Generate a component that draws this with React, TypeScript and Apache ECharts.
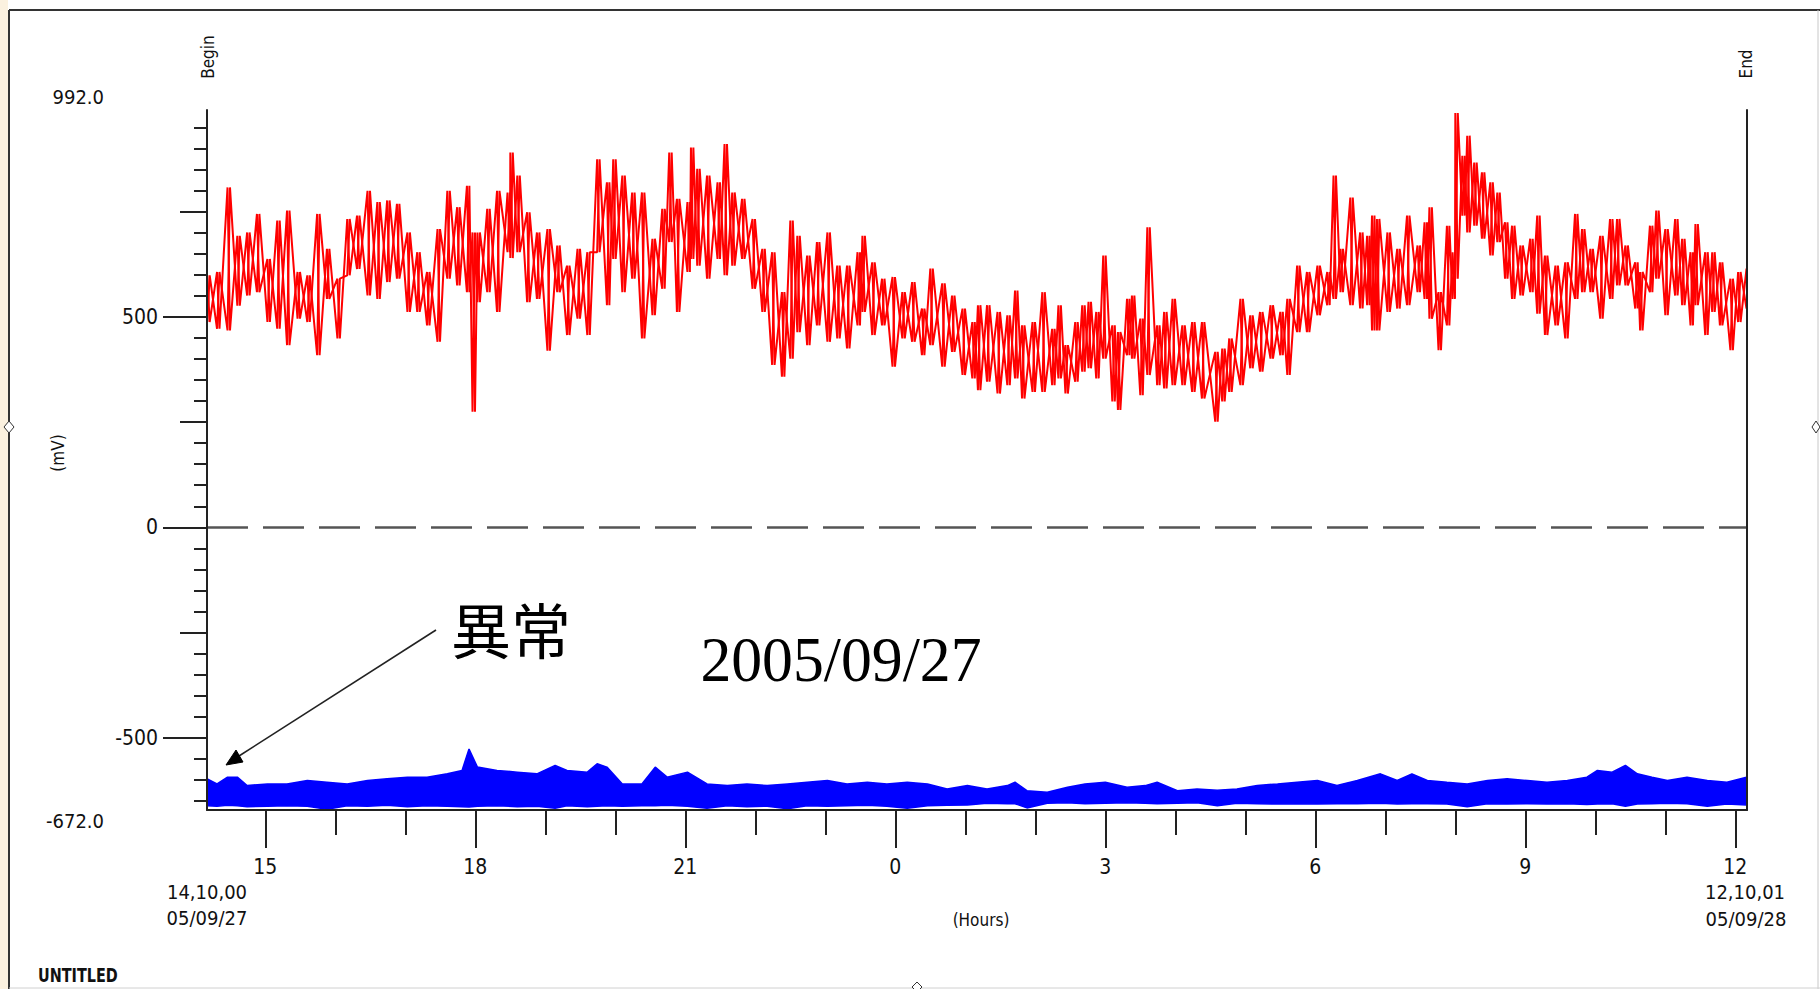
import React, { useEffect, useRef } from "react";
import * as echarts from "echarts";

// ---- axis ranges / ticks ----
const START_HOUR = 14 + 10 / 60; // 14:10:00 05/09/27
const END_HOUR = 36 + 10 / 60 + 1 / 3600; // 12:10:01 05/09/28
const Y_MIN = -672;
const Y_MAX = 992;

const hourTicks = [15, 16, 17, 18, 19, 20, 21, 22, 23, 24, 25, 26, 27, 28, 29, 30, 31, 32, 33, 34, 35, 36];
const hourLabelTicks = [15, 18, 21, 24, 27, 30, 33, 36];
const yMinorTicks = [-650, -600, -550, -500, -450, -400, -350, -300, -250, -200, -150, -100, -50, 0, 50, 100, 150, 200, 250, 300, 350, 400, 450, 500, 550, 600, 650, 700, 750, 800, 850, 900, 950];
const yMidTicks = [-250, 250, 750];
const yMajorTicks = [-500, 0, 500];

// ---- red channel (mV): per time column, upper and lower excursion ----
const redTimes = [
  14.17, 14.31, 14.46, 14.60, 14.74, 14.88, 15.03, 15.17, 15.31, 15.46, 15.60, 15.74, 15.88, 16.03, 16.17, 16.31, 16.46, 16.60, 16.74, 16.88,
  17.03, 17.17, 17.31, 17.46, 17.60, 17.74, 17.88, 17.96, 18.03, 18.17, 18.31, 18.46, 18.50, 18.60, 18.74, 18.88, 19.03, 19.17, 19.31, 19.46,
  19.60, 19.74,
  19.88, 19.97, 20.10, 20.24, 20.38, 20.53, 20.67, 20.77, 20.88, 21.03, 21.08, 21.17, 21.31, 21.46, 21.56, 21.67, 21.81, 21.96, 22.10, 22.24,
  22.38, 22.50, 22.60, 22.74, 22.88, 23.03, 23.17, 23.31, 23.46, 23.53, 23.67, 23.81, 23.96, 24.10, 24.24, 24.38, 24.50, 24.67, 24.81, 24.96,
  25.10, 25.18, 25.31,
  25.46, 25.60, 25.71, 25.81, 25.96, 26.10, 26.24, 26.33, 26.43, 26.57, 26.67, 26.76, 26.87, 26.97, 27.10, 27.18, 27.31, 27.38, 27.50, 27.60,
  27.74, 27.84, 27.96, 28.10, 28.24, 28.38, 28.57, 28.67, 28.77, 28.93, 29.07, 29.21, 29.36, 29.50, 29.60, 29.74, 29.88, 30.03, 30.17, 30.26,
  30.36, 30.50, 30.64, 30.74, 30.81,
  30.88, 31.03, 31.17, 31.31, 31.46, 31.56, 31.63, 31.76, 31.88, 31.96, 32.00, 32.10, 32.17, 32.27, 32.38, 32.50, 32.60, 32.71, 32.81, 32.93,
  33.07, 33.17, 33.28, 33.43, 33.57, 33.71, 33.81, 33.93, 34.07, 34.21, 34.31, 34.43, 34.57, 34.64, 34.78, 34.87, 35.00, 35.14, 35.24, 35.36,
  35.43, 35.57, 35.67, 35.78, 35.93, 36.04, 36.16,
];
const redHigh = [
  599, 607, 808, 693, 701, 745, 638, 729, 753, 607, 599, 745, 662, 591, 733, 741, 800, 773, 777, 769,
  701, 654, 607, 709, 800, 761, 812, 701, 701, 757, 800, 796, 891, 836, 749, 701, 709, 670, 622, 662,
  654, 875,
  820, 875, 836, 796, 796, 686, 757, 891, 781, 773, 903, 852, 836, 820, 911, 796, 781, 733, 662, 654,
  559, 729, 693, 646, 678, 701, 622, 622, 654, 693, 630, 591, 595, 559, 583, 520, 615, 580, 551, 520,
  488, 528, 528,
  512, 504, 563, 480, 488, 559, 472, 528, 433, 488, 528, 536, 512, 646, 480, 464, 543, 551, 496, 713,
  480, 512, 543, 480, 488, 488, 417, 425, 449, 543, 504, 512, 528, 512, 543, 622, 607, 622, 607, 836,
  662, 784, 701, 693, 741,
  733, 701, 662, 741, 670, 725, 761, 559, 717, 654, 985, 883, 931, 867, 844, 820, 796, 725, 717, 670,
  686, 741, 646, 622, 630, 745, 709, 662, 693, 733, 733, 670, 630, 607, 717, 753, 709, 733, 686, 654,
  721, 654, 654, 630, 591, 607, 615,
];
const redLow = [
  488, 472, 468, 527, 551, 559, 488, 472, 433, 496, 488, 409, 543, 449, 599, 614, 551, 543, 583, 591,
  512, 512, 480, 441, 591, 575, 559, 275, 535, 559, 512, 654, 640, 654, 535, 543, 420, 559, 457, 496,
  457, 654,
  528, 638, 559, 591, 449, 504, 567, 678, 512, 607, 638, 622, 591, 638, 599, 622, 638, 567, 512, 386,
  358, 401, 464, 433, 480, 441, 449, 425, 480, 512, 457, 480, 382, 449, 441, 409, 433, 382, 417, 362,
  354, 326, 346,
  318, 338, 354, 306, 322, 322, 338, 354, 318, 346, 370, 378, 354, 401, 299, 279, 409, 401, 314, 362,
  338, 330, 338, 338, 322, 306, 251, 299, 322, 338, 378, 370, 401, 409, 362, 464, 464, 504, 528, 543,
  559, 528, 520, 528, 468,
  468, 512, 520, 528, 559, 543, 496, 421, 480, 543, 591, 741, 701, 717, 686, 646, 678, 591, 543, 551,
  559, 508, 457, 480, 449, 543, 559, 559, 496, 543, 575, 575, 520, 468, 559, 591, 504, 551, 528, 480,
  528, 457, 512, 480, 421, 488, 520,
];

// ---- blue channel (mV): per time column, top and bottom of the trace ----
const blueTimes = [
  14.17, 14.31, 14.46, 14.60, 14.74, 15.03, 15.31, 15.60, 15.88, 16.17, 16.46, 16.74, 17.03, 17.31, 17.60, 17.81, 17.91, 18.03, 18.31, 18.60,
  18.88, 19.14, 19.31, 19.60, 19.74, 19.88, 20.10, 20.38, 20.57, 20.74, 21.03, 21.31, 21.60, 21.88, 22.17, 22.46, 22.74, 23.03, 23.31, 23.60,
  23.88, 24.17, 24.46, 24.74, 25.03, 25.31, 25.60, 25.71, 25.88, 26.17, 26.46, 26.71, 27.00, 27.31, 27.57, 27.74, 28.03, 28.31, 28.60, 28.88,
  29.17, 29.46, 29.74, 30.03, 30.31, 30.60, 30.93, 31.17, 31.38, 31.60, 31.88, 32.17, 32.46, 32.74, 33.03, 33.31, 33.60, 33.88, 34.03, 34.24,
  34.43, 34.60, 34.81, 35.03, 35.31, 35.60, 35.88, 36.16,
];
const blueHigh = [
  -598, -610, -594, -594, -614, -610, -610, -602, -606, -610, -602, -598, -594, -594, -586, -578, -527, -570, -578, -582,
  -586, -566, -578, -582, -562, -570, -610, -610, -570, -594, -582, -610, -614, -610, -614, -610, -606, -602, -610, -606,
  -610, -606, -610, -622, -614, -622, -614, -606, -626, -630, -618, -610, -606, -618, -614, -606, -626, -622, -625, -622,
  -614, -610, -606, -602, -614, -602, -586, -602, -586, -602, -606, -610, -602, -598, -602, -606, -602, -594, -578, -582,
  -566, -586, -594, -602, -594, -602, -606, -594,
];
const blueLow = [
  -662, -663, -661, -662, -664, -663, -662, -663, -670, -662, -663, -661, -664, -662, -663, -664, -665, -663, -662, -664,
  -663, -668, -662, -664, -663, -662, -663, -662, -662, -661, -663, -668, -662, -664, -663, -669, -662, -663, -662, -661,
  -663, -668, -662, -661, -660, -656, -657, -657, -667, -656, -655, -657, -656, -655, -656, -657, -656, -655, -662, -656,
  -657, -658, -657, -658, -657, -657, -656, -658, -657, -657, -658, -664, -657, -658, -657, -658, -657, -659, -658, -657,
  -663, -658, -657, -656, -657, -663, -658, -660,
];

const FONT = '"DejaVu Sans Condensed", "Liberation Sans Narrow", "DejaVu Sans", sans-serif';
const INK = "#111";
const AXIS_LINE = { color: "#222", width: 2 };
const RED = "#ff0000";
const BLUE = "#0000ff";

function txt(text: string, x: number, y: number, o: any = {}) {
  const align = o.align || "center";
  return {
    type: "text",
    x,
    y,
    rotation: o.rotation || 0,
    scaleX: o.scaleX || 1,
    z: 20,
    style: {
      text,
      fill: o.color || INK,
      fontSize: o.size || 20,
      fontFamily: o.family || FONT,
      fontWeight: o.weight || "normal",
      align,
      verticalAlign: "middle",
      textAlign: align,
      textVerticalAlign: "middle",
    },
  };
}

export default function App() {
  const ref = useRef<HTMLDivElement>(null);

  useEffect(() => {
    if (!ref.current) return;
    const chart = echarts.init(ref.current, undefined, { renderer: "svg" });

    // two opposite-phase traces through the same high/low readings give the dense noisy look
    const redDataA: number[][] = [];
    const redDataB: number[][] = [];
    redTimes.forEach((t, i) => {
      redDataA.push([t, redHigh[i]]);
      redDataA.push([t + 0.035, redLow[i]]);
      redDataB.push([t, redLow[i]]);
      redDataB.push([t + 0.035, redHigh[i]]);
    });
    const blueTopData = blueTimes.map((t, i) => [t, blueHigh[i]]);
    const blueBottomData = blueTimes.map((t, i) => [t, blueLow[i]]);

    const xBase = { type: "value", min: START_HOUR, max: END_HOUR, position: "bottom", z: 10, splitLine: { show: false } };
    const yBase = { type: "value", min: Y_MIN, max: Y_MAX, z: 10, splitLine: { show: false } };

    const redLine = (name: string, data: number[][], extra: any = {}) => ({
      name,
      type: "line",
      xAxisIndex: 0,
      yAxisIndex: 0,
      data,
      symbol: "none",
      showSymbol: false,
      lineStyle: { color: RED, width: 2 },
      itemStyle: { color: RED },
      ...extra,
    });

    const option: any = {
      animation: false,
      backgroundColor: "#ffffff",
      grid: { left: 207, top: 110, width: 1540, height: 700, containLabel: false, outerBoundsMode: "none" },
      xAxis: [
        {
          ...xBase,
          axisLine: { show: true, onZero: false, lineStyle: AXIS_LINE },
          axisTick: { show: true, length: 25, customValues: hourTicks, lineStyle: AXIS_LINE },
          axisLabel: { show: false },
        },
        {
          ...xBase,
          axisLine: { show: false, onZero: false },
          axisTick: { show: true, length: 38, customValues: hourLabelTicks, lineStyle: AXIS_LINE },
          axisLabel: {
            show: true,
            customValues: hourLabelTicks,
            formatter: (v: number) => String(Math.round(v) % 24),
            margin: 46,
            fontSize: 21,
            fontFamily: FONT,
            color: INK,
          },
        },
      ],
      yAxis: [
        {
          ...yBase,
          position: "left",
          axisLine: { show: true, onZero: false, lineStyle: AXIS_LINE },
          axisTick: { show: true, length: 13, customValues: yMinorTicks, lineStyle: AXIS_LINE },
          axisLabel: { show: false },
        },
        {
          ...yBase,
          position: "left",
          axisLine: { show: false, onZero: false },
          axisTick: { show: true, length: 27, customValues: yMidTicks, lineStyle: AXIS_LINE },
          axisLabel: { show: false },
        },
        {
          ...yBase,
          position: "left",
          axisLine: { show: false, onZero: false },
          axisTick: { show: true, length: 44, customValues: yMajorTicks, lineStyle: AXIS_LINE },
          axisLabel: { show: true, customValues: yMajorTicks, margin: 49, fontSize: 21, fontFamily: FONT, color: INK },
        },
        {
          ...yBase,
          position: "right",
          axisLine: { show: true, onZero: false, lineStyle: AXIS_LINE },
          axisTick: { show: false },
          axisLabel: { show: false },
        },
      ],
      series: [
        redLine("red", redDataA, {
          markLine: {
            silent: true,
            symbol: ["none", "none"],
            label: { show: false },
            lineStyle: { color: "#555555", width: 2.5, type: [41, 15] },
            data: [{ yAxis: 0 }],
          },
        }),
        redLine("red2", redDataB),
        {
          name: "blueTop",
          type: "line",
          xAxisIndex: 0,
          yAxisIndex: 0,
          data: blueTopData,
          symbol: "none",
          showSymbol: false,
          lineStyle: { color: BLUE, width: 1.5 },
          areaStyle: { color: BLUE, opacity: 1, origin: "start" },
        },
        {
          name: "blueBottom",
          type: "line",
          xAxisIndex: 0,
          yAxisIndex: 0,
          data: blueBottomData,
          symbol: "none",
          showSymbol: false,
          lineStyle: { color: BLUE, width: 1.5 },
          areaStyle: { color: "#ffffff", opacity: 1, origin: "start" },
        },
      ],
      graphic: {
        elements: [
          { type: "rect", shape: { x: 0, y: 0, width: 8, height: 989 }, style: { fill: "#fbf1df" } },
          { type: "line", shape: { x1: 9, y1: 10, x2: 1820, y2: 10 }, style: { stroke: "#333", lineWidth: 2 } },
          { type: "line", shape: { x1: 9, y1: 10, x2: 9, y2: 989 }, style: { stroke: "#333", lineWidth: 2 } },
          { type: "line", shape: { x1: 1818, y1: 10, x2: 1818, y2: 989 }, style: { stroke: "#c8c8c8", lineWidth: 1 } },
          { type: "line", shape: { x1: 9, y1: 988, x2: 1820, y2: 988 }, style: { stroke: "#d0d0d0", lineWidth: 1 } },
          { type: "polygon", shape: { points: [[9, 421], [14, 427], [9, 433], [4, 427]] }, style: { fill: "#fff", stroke: "#333", lineWidth: 1 } },
          { type: "polygon", shape: { points: [[1816, 421], [1820, 427], [1816, 433], [1812, 427]] }, style: { fill: "#fff", stroke: "#333", lineWidth: 1 } },
          { type: "polygon", shape: { points: [[917, 982], [922, 987], [917, 992], [912, 987]] }, style: { fill: "#fff", stroke: "#333", lineWidth: 1 } },

          txt("992.0", 104, 97, { align: "right", size: 20 }),
          txt("-672.0", 104, 821, { align: "right", size: 20 }),
          txt("Begin", 208, 57, { size: 17, rotation: Math.PI / 2 }),
          txt("End", 1746, 64, { size: 17, rotation: Math.PI / 2 }),
          txt("(mV)", 58, 453, { size: 17, rotation: Math.PI / 2 }),
          txt("(Hours)", 981, 920, { size: 17 }),
          txt("14,10,00", 207, 892, { size: 20 }),
          txt("05/09/27", 207, 918, { size: 20 }),
          txt("12,10,01", 1745, 892, { size: 20 }),
          txt("05/09/28", 1746, 919, { size: 20 }),
          txt("UNTITLED", 38, 975, { align: "left", size: 20, weight: "bold", scaleX: 0.8 }),

          txt("異常", 511, 627, { size: 60, family: '"Noto Sans CJK JP", "Noto Sans CJK SC", sans-serif', color: "#000" }),
          txt("2005/09/27", 841, 659, { size: 63, family: '"Liberation Serif", "DejaVu Serif", serif', scaleX: 0.98, color: "#000" }),

          { type: "line", shape: { x1: 436, y1: 630, x2: 239, y2: 756 }, style: { stroke: "#222", lineWidth: 1.6 } },
          { type: "polygon", shape: { points: [[226, 765], [243, 762], [236, 750]] }, style: { fill: "#000", stroke: "#000", lineWidth: 1 } },
        ],
      },
    };

    chart.setOption(option);
    return () => chart.dispose();
  }, []);

  return (
    <div
      ref={ref}
      style={{ position: "fixed", left: 0, top: 0, width: 1820, height: 989, background: "#fff" }}
    />
  );
}
